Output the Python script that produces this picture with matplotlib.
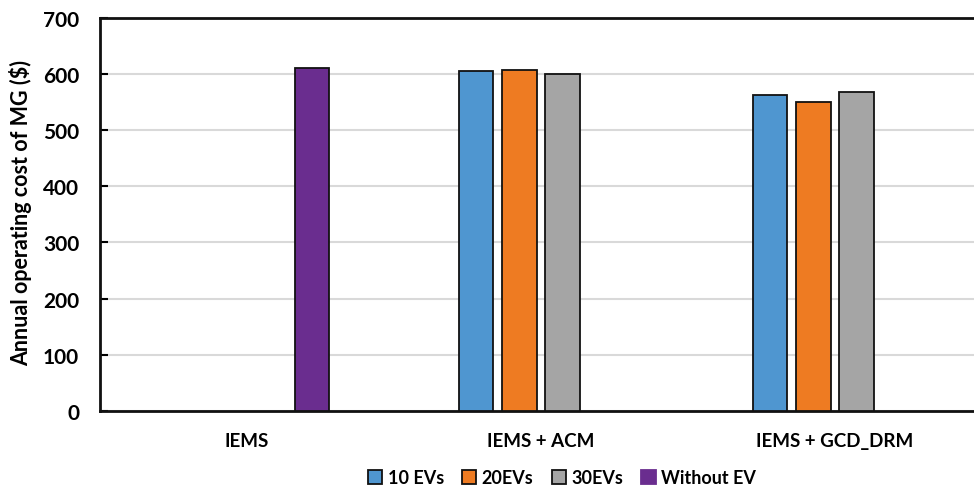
import numpy as np
import matplotlib.pyplot as plt
from matplotlib.patches import Patch

categories = ["IEMS", "IEMS + ACM", "IEMS + GCD_DRM"]
series_names = ["10 EVs", "20EVs", "30EVs", "Without EV"]
ev10 = [np.nan, 606, 563]
ev20 = [np.nan, 608, 550]
ev30 = [np.nan, 601, 569]
without_ev = [611, np.nan, np.nan]
yticks = [0, 100, 200, 300, 400, 500, 600, 700]

colors = ["#4F96D0", "#EE7B22", "#A5A5A5", "#6A2D8F"]
edge = "#111111"

plt.rcParams['font.family'] = ['Lato', 'DejaVu Sans']
plt.rcParams['font.weight'] = 'bold'

W, H = 974, 489
fig = plt.figure(figsize=(W / 100, H / 100), dpi=100)
ax = fig.add_axes([100 / W, 77.3 / H, 882 / W, 392.5 / H])

x = np.arange(len(categories))
step = 0.1473
bw = 0.1173
all_series = [ev10, ev20, ev30, without_ev]
for i, vals in enumerate(all_series):
    ax.bar(x + (i - 1.5) * step, vals, width=bw, color=colors[i],
           edgecolor=edge, linewidth=1.3, zorder=3)

ax.set_xlim(-0.5, 2.5)
ax.set_ylim(0, 700)
ax.set_yticks(yticks)
ax.set_xticks(x)
ax.set_xticklabels(categories, fontsize=13.5, fontweight='bold')
ax.tick_params(axis='x', length=0, pad=15)
ax.tick_params(axis='y', direction='in', length=6, width=1.5, labelsize=15, pad=15)
for lbl in ax.get_yticklabels():
    lbl.set_fontweight('bold')

ax.grid(axis='y', color='#D9D9D9', linewidth=1.5, zorder=0)
ax.set_axisbelow(True)
for side in ['left', 'bottom', 'top']:
    ax.spines[side].set_linewidth(2)
    ax.spines[side].set_color('#111111')
ax.spines['right'].set_visible(False)

ax.set_ylabel("Annual operating cost of MG ($)", fontsize=15.5, fontweight='bold')
ax.yaxis.set_label_coords(-0.077, 0.505)

handles = [Patch(facecolor=colors[i], edgecolor=(edge if i < 3 else colors[i]),
                 linewidth=1.3) for i in range(4)]
fig.legend(handles, series_names, loc='center', bbox_to_anchor=(562 / W, 1 - 479 / H),
           ncol=4, frameon=False, handlelength=0.8, handleheight=0.8,
           handletextpad=0.3, columnspacing=1.0, prop={'weight': 'bold', 'size': 13})

fig.savefig("out.png", dpi=100)
